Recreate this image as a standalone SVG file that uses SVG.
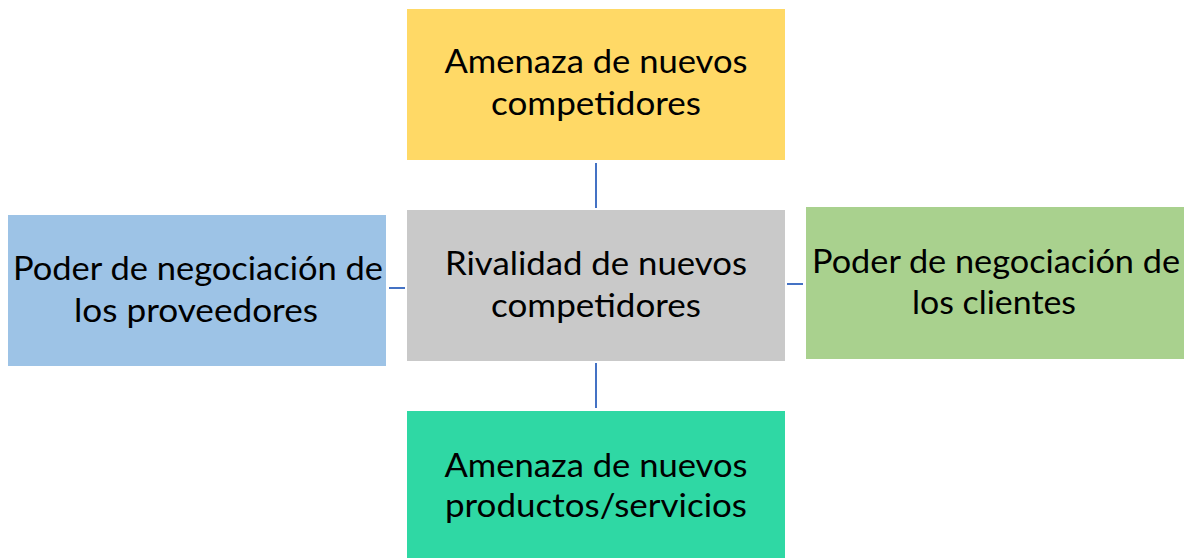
<svg xmlns="http://www.w3.org/2000/svg" width="1190" height="558" viewBox="0 0 1190 558">
<style>
.t{font-family:Lato,"Open Sans","Liberation Sans",sans-serif;font-size:32px;fill:#000;text-anchor:middle}
.c{stroke:#4472C4;stroke-width:2;fill:none}
</style>
<rect width="1190" height="558" fill="#fff"/>
<g id="connectors">
<line class="c" x1="596" y1="163" x2="596" y2="208"/>
<line class="c" x1="596" y1="363" x2="596" y2="408"/>
<line class="c" x1="389" y1="288" x2="405" y2="288"/>
<line class="c" x1="787" y1="284" x2="803" y2="284"/>
</g>
<g id="top">
<rect x="407" y="9" width="378" height="151" fill="#FFD966"/>
<text class="t" x="596" y="73" textLength="303" lengthAdjust="spacingAndGlyphs">Amenaza de nuevos</text>
<text class="t" x="596" y="115" textLength="210" lengthAdjust="spacingAndGlyphs">competidores</text>
</g>
<g id="center">
<rect x="407" y="210" width="378" height="151" fill="#C9C9C9"/>
<text class="t" x="596" y="275" textLength="302" lengthAdjust="spacingAndGlyphs">Rivalidad de nuevos</text>
<text class="t" x="596" y="317" textLength="210" lengthAdjust="spacingAndGlyphs">competidores</text>
</g>
<g id="left">
<rect x="8" y="215" width="378" height="151" fill="#9DC3E6"/>
<text class="t" x="198" y="280" textLength="370" lengthAdjust="spacingAndGlyphs">Poder de negociación de</text>
<text class="t" x="196" y="322" textLength="244" lengthAdjust="spacingAndGlyphs">los proveedores</text>
</g>
<g id="right">
<rect x="806" y="207" width="378" height="152" fill="#A9D18E"/>
<text class="t" x="996" y="273" textLength="368" lengthAdjust="spacingAndGlyphs">Poder de negociación de</text>
<text class="t" x="994" y="314" textLength="164" lengthAdjust="spacingAndGlyphs">los clientes</text>
</g>
<g id="bottom">
<rect x="407" y="411" width="378" height="147" fill="#2FD8A4"/>
<text class="t" x="596" y="477" textLength="303" lengthAdjust="spacingAndGlyphs">Amenaza de nuevos</text>
<text class="t" x="596" y="517" textLength="302" lengthAdjust="spacingAndGlyphs">productos/servicios</text>
</g>
</svg>
